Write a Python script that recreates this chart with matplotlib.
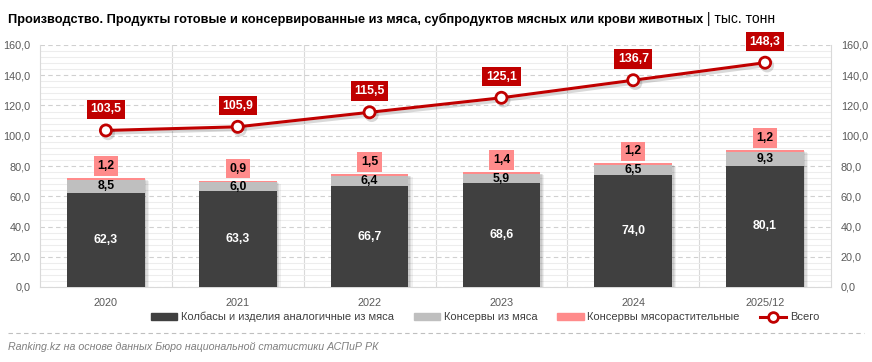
import matplotlib
matplotlib.use("Agg")
import matplotlib.pyplot as plt
import matplotlib.patheffects as pe
from matplotlib.lines import Line2D
from matplotlib.patches import Patch
from matplotlib.ticker import MultipleLocator, FuncFormatter
import numpy as np

plt.rcParams['font.family'] = ['Liberation Sans', 'DejaVu Sans']

categories = ["2020", "2021", "2022", "2023", "2024", "2025/12"]
sausages = [62.3, 63.3, 66.7, 68.6, 74.0, 80.1]
canned = [8.5, 6.0, 6.4, 5.9, 6.5, 9.3]
meatveg = [1.2, 0.9, 1.5, 1.4, 1.2, 1.2]
total = [103.5, 105.9, 115.5, 125.1, 136.7, 148.3]

series_names = ["Колбасы и изделия аналогичные из мяса", "Консервы из мяса",
                "Консервы мясорастительные", "Всего"]
title_main = "Производство. Продукты готовые и консервированные из мяса, субпродуктов мясных или крови животных"
title_unit = " | тыс. тонн"
source = "Ranking.kz на основе данных Бюро национальной статистики АСПиР РК"

c_dark = "#404040"
c_gray = "#BFBFBF"
c_pink = "#FF8B8B"
c_red = "#C00000"
c_tick = "#595959"

fig = plt.figure(figsize=(8.72, 3.62), dpi=100)
ax = fig.add_axes([40/872, 75/362, 791/872, 242/362])
x = np.arange(len(categories))
w = 0.59

s1 = np.array(sausages)
top2 = s1 + np.array(canned)
top3 = top2 + np.array(meatveg)
# soft shadow behind the whole stack
for k, (off, a) in enumerate([((3, -2), 0.06), ((2, -1.5), 0.08), ((1, -1), 0.08)]):
    ax.bar(x, top3, w, color="none", zorder=2.9,
           path_effects=[pe.SimplePatchShadow(offset=off, shadow_rgbFace="#000000", alpha=a)])
ax.bar(x, sausages, w, color=c_dark, zorder=3)
ax.bar(x, canned, w, bottom=s1, color=c_gray, zorder=3)
ax.bar(x, meatveg, w, bottom=top2, color=c_pink, zorder=3)

ax.plot(x, total, color=c_red, lw=2.2, marker="o", ms=8, mfc="white", mec=c_red, mew=2,
        zorder=5, path_effects=[pe.SimpleLineShadow(offset=(1.5, -2), alpha=0.15), pe.Normal()])

fs = 8.8
for i in range(len(x)):
    ax.text(x[i], sausages[i] / 2, f"{sausages[i]:.1f}".replace(".", ","), ha="center", va="center",
            color="white", fontsize=fs, fontweight="bold", zorder=6)
    ax.text(x[i], sausages[i] + canned[i] / 2, f"{canned[i]:.1f}".replace(".", ","), ha="center",
            va="center", color="black", fontsize=fs, fontweight="bold", zorder=6)
    ax.text(x[i], top3[i] + 8, f"{meatveg[i]:.1f}".replace(".", ","), ha="center", va="center",
            color="black", fontsize=fs, fontweight="bold", zorder=6,
            bbox=dict(boxstyle="square,pad=0.3", fc=c_pink, ec="none"))
    ax.text(x[i], total[i] + 14, f"{total[i]:.1f}".replace(".", ","), ha="center", va="center",
            color="white", fontsize=fs, fontweight="bold", zorder=6,
            bbox=dict(boxstyle="square,pad=0.3", fc=c_red, ec="none"))

ax.set_xlim(-0.5, len(x) - 0.5)
ax.set_ylim(0, 160)
ax.yaxis.set_major_locator(MultipleLocator(20))
ax.yaxis.set_minor_locator(MultipleLocator(4))
fmt = FuncFormatter(lambda v, p: f"{v:.1f}".replace(".", ","))
ax.yaxis.set_major_formatter(fmt)
ax.grid(axis="y", which="major", color="#D0D0D0", ls=(0, (4, 3)), lw=0.8, zorder=0)
ax.grid(axis="y", which="minor", color="#EDEDED", ls="-", lw=0.8, zorder=0)
for b in np.arange(0.5, len(x) - 0.5, 1):
    ax.axvline(b, color="#D9D9D9", lw=0.8, zorder=0)
ax.set_xticks(x)
ax.set_xticklabels(categories)
ax.tick_params(axis="both", which="both", length=0, colors=c_tick, labelsize=7.8)
ax.tick_params(axis="x", pad=8)
ax.tick_params(axis="y", pad=7)
ax.spines["top"].set_visible(False)
for s in ["left", "right", "bottom"]:
    ax.spines[s].set_color("#D9D9D9")

ax2 = ax.twinx()
ax2.set_ylim(0, 160)
ax2.yaxis.set_major_locator(MultipleLocator(20))
ax2.yaxis.set_major_formatter(fmt)
ax2.tick_params(axis="y", length=0, colors=c_tick, labelsize=7.8, pad=7)
for s in ax2.spines.values():
    s.set_visible(False)

handles = [Patch(color=c_dark), Patch(color=c_gray), Patch(color=c_pink),
           Line2D([0], [0], color=c_red, lw=2.2, marker="o", ms=7, mfc="white", mec=c_red, mew=2)]
fig.legend(handles, series_names, loc="center", bbox_to_anchor=(485/872, 1 - 317/362), ncol=4,
           frameon=False, fontsize=8, handlelength=2.4, handleheight=0.6, columnspacing=1.8,
           handletextpad=0.3, labelcolor="#404040")

t = fig.text(8/872, 1 - 19/362, title_main, fontsize=9.2, fontweight="bold", va="center", ha="left")
r = fig.canvas.get_renderer()
bb = t.get_window_extent(renderer=r)
fig.text(bb.x1 / 872, 1 - 19/362, title_unit, fontsize=10, va="center", ha="left")

fig.add_artist(Line2D([8/872, 1 - 8/872], [1 - 333/362] * 2, color="#BFBFBF", lw=0.8, ls=(0, (4, 3))))
fig.text(8/872, 1 - 347/362, source, fontsize=7.7, style="italic", color="#7F7F7F", va="center", ha="left")

fig.savefig("out.png", dpi=100)
